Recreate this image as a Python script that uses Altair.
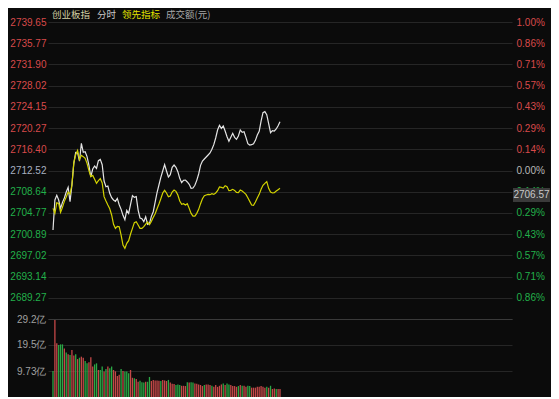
import altair as alt
import pandas as pd

# ---------------- data ----------------
minutes = list(range(121))  # 9:30 .. 11:30, one point per minute

index_price = [
    2701.65, 2707.13, 2707.98, 2707.13, 2705.60, 2706.70, 2707.49, 2708.59, 2709.44, 2706.82,
    2709.87, 2713.83, 2715.84, 2715.78, 2714.25, 2717.48, 2715.84, 2715.96, 2715.05, 2713.46,
    2711.39, 2712.79, 2713.34, 2712.91, 2714.31, 2714.56, 2713.58, 2710.60, 2709.56, 2709.69,
    2708.35, 2707.55, 2707.13, 2706.88, 2707.43, 2706.27, 2705.42, 2704.33, 2703.53, 2705.24,
    2704.69, 2706.34, 2707.92, 2707.61, 2707.74, 2705.30, 2703.84, 2703.72, 2703.17, 2704.08,
    2702.68, 2702.86, 2704.14, 2704.99, 2706.76, 2708.47, 2709.87, 2711.27, 2712.43, 2713.58,
    2712.43, 2711.33, 2711.76, 2713.10, 2713.52, 2713.10, 2712.30, 2711.09, 2710.29, 2710.72,
    2710.78, 2710.42, 2709.99, 2709.26, 2709.32, 2709.81, 2710.72, 2711.88, 2713.46, 2714.25,
    2714.62, 2714.98, 2715.35, 2715.72, 2716.39, 2717.24, 2718.46, 2719.92, 2720.77, 2720.22,
    2720.65, 2719.74, 2718.70, 2717.85, 2718.58, 2719.31, 2718.58, 2718.21, 2718.82, 2719.92,
    2719.49, 2719.61, 2718.58, 2717.42, 2717.18, 2717.24, 2717.42, 2718.03, 2719.00, 2719.67,
    2721.56, 2723.09, 2723.27, 2722.72, 2721.08, 2719.43, 2719.80, 2719.74, 2720.10, 2720.71,
    2721.44,
]

lead_index = [
    2705.60, 2704.69, 2706.64, 2706.52, 2704.87, 2705.79, 2706.88, 2707.68, 2708.59, 2708.22,
    2709.87, 2713.95, 2715.41, 2716.20, 2714.50, 2715.29, 2715.05, 2714.74, 2713.83, 2712.49,
    2711.39, 2711.63, 2710.90, 2710.17, 2710.66, 2711.03, 2710.23, 2707.74, 2706.94, 2706.21,
    2705.54, 2704.39, 2702.68, 2701.95, 2702.31, 2702.25, 2700.73, 2698.90, 2698.29, 2699.21,
    2699.70, 2700.91, 2701.95, 2702.99, 2703.17, 2702.56, 2701.95, 2701.95, 2702.25, 2702.74,
    2703.11, 2702.62, 2703.23, 2703.96, 2704.63, 2705.54, 2706.40, 2707.37, 2708.41, 2708.89,
    2708.41, 2707.74, 2707.86, 2708.59, 2708.95, 2708.71, 2708.04, 2706.94, 2706.34, 2706.46,
    2706.21, 2706.46, 2705.60, 2704.69, 2704.20, 2704.20, 2704.69, 2705.42, 2706.46, 2707.37,
    2707.92, 2708.04, 2708.16, 2708.10, 2708.28, 2708.16, 2708.41, 2708.83, 2709.50, 2709.44,
    2709.32, 2709.75, 2709.56, 2708.83, 2708.89, 2709.08, 2708.89, 2708.53, 2708.47, 2708.95,
    2708.77, 2708.47, 2708.16, 2707.55, 2706.88, 2706.21, 2706.15, 2706.76, 2707.49, 2708.16,
    2709.08, 2709.81, 2710.17, 2710.48, 2709.26, 2708.59, 2708.41, 2708.47, 2708.77, 2709.02,
    2709.26,
]

volume = [
    9.7, 28.8, 20.1, 19.5, 19.7, 19.7, 18.2, 16.7, 16.0, 15.7,
    17.6, 15.5, 16.0, 14.2, 14.7, 15.1, 14.7, 13.5, 12.6, 13.0,
    14.9, 11.4, 12.2, 12.6, 10.1, 10.1, 11.4, 9.5, 10.5, 11.4,
    10.8, 11.4, 10.1, 9.6, 7.9, 8.3, 10.5, 9.7, 9.5, 9.5,
    8.9, 10.1, 7.2, 7.0, 6.7, 5.7, 6.1, 5.5, 5.4, 5.7,
    5.7, 7.5, 6.0, 6.4, 6.2, 6.2, 6.1, 6.0, 6.4, 6.2,
    6.0, 6.4, 5.4, 5.0, 4.9, 4.5, 4.7, 4.5, 4.2, 4.2,
    4.1, 5.5, 5.4, 5.5, 5.4, 5.1, 5.0, 4.7, 4.5, 4.1,
    4.5, 4.7,
    4.7, 4.5, 4.2, 3.8, 4.5, 3.8, 4.2, 4.7, 5.1, 4.5,
    5.1, 4.7, 4.5, 4.1, 4.1, 3.8, 4.1, 4.5, 4.2, 4.2,
    3.8, 4.2, 4.1, 3.5, 3.5, 3.5, 3.8, 3.8, 4.1, 3.8,
    3.5, 3.8, 3.5, 4.2, 3.0, 3.2, 3.0, 3.0, 3.0,
]

direction = list(
    "GRRGGGRGRG" "RRGRGRRGGR" "RRGGRGGRGR" "GGRRRRGRGG"
    "GRRGRRGGGR" "GGRRRRRGRR" "RGRRRGGGRR" "RGRGGRRRRR" "GR"
    "RRGRRRRRGR" "GGRRRRGRGR" "RGGRRRRRRR" "RGRGRRGRR"
)

prev_close = 2712.52
price_ticks = [2685.39, 2689.27, 2693.14, 2697.02, 2700.89, 2704.77, 2708.64,
               2712.52, 2716.40, 2720.27, 2724.15, 2728.02, 2731.90, 2735.77, 2739.65]
volume_ticks = [9.73, 19.47, 29.2]
grid_minutes = [0, 30, 60, 90, 120, 150, 180, 210, 240]
header_texts = ["创业板指", "分时", "领先指标", "成交额(元)"]
last_label = ["2706.57"]

df = pd.DataFrame({
    "minute": minutes,
    "price": index_price,
    "lead": lead_index,
    "vol": volume,
    "dir": ["up" if d == "R" else "down" for d in direction],
})

# ---------------- styling ----------------
BG = "#0b0b0b"
GRID = "#262626"
RED = "#d84a4a"
GREEN = "#22b04a"
NEUTRAL = "#a8b0c0"
LBL_FONT = "Liberation Sans"
CJK_FONT = "Noto Sans CJK SC"

W, H = 464, 375
PRICE_H = 297

x_enc_grid = alt.X(
    "minute:Q",
    scale=alt.Scale(domain=[0, 240], nice=False, zero=False),
    axis=alt.Axis(values=grid_minutes, labels=False, ticks=False, domain=False,
                  grid=True, gridColor=GRID, gridWidth=1, title=None),
)
x_enc = alt.X("minute:Q", scale=alt.Scale(domain=[0, 240], nice=False, zero=False), axis=None)

price_scale = alt.Scale(domain=[price_ticks[0], price_ticks[-1]], range=[PRICE_H, 0],
                        nice=False, zero=False)

label_color = {
    "condition": [
        {"test": f"datum.value > {prev_close + 0.05}", "value": RED},
        {"test": f"datum.value < {prev_close - 0.05}", "value": GREEN},
    ],
    "value": NEUTRAL,
}

base = alt.Chart(df)

white_line = base.mark_line(color="#e4e4e4", strokeWidth=1.2).encode(
    x=x_enc_grid,
    y=alt.Y("price:Q", scale=price_scale,
            axis=alt.Axis(orient="left", values=price_ticks, title=None,
                          labelExpr="datum.value < 2686 ? '' : format(datum.value, '.2f')",
                          labelColor=label_color, labelFont=LBL_FONT, labelFontSize=10,
                          labelPadding=2, ticks=False, domain=False, grid=True,
                          gridColor=GRID, gridWidth=1, labelBaseline="middle")),
)

yellow_line = base.mark_line(color="#d2d200", strokeWidth=1.2).encode(
    x=x_enc,
    y=alt.Y("lead:Q", scale=price_scale,
            axis=alt.Axis(orient="right", values=price_ticks, title=None,
                          labelExpr=("datum.value < 2686 ? '' : format(abs(datum.value / "
                                     f"{prev_close} - 1) * 100, '.2f') + '%'"),
                          labelColor={
                              "condition": [
                                  {"test": f"datum.value > {prev_close + 0.05}", "value": RED},
                                  {"test": f"datum.value < {prev_close - 0.05}", "value": GREEN},
                              ],
                              "value": "#b8b8b8",
                          },
                          labelFont=LBL_FONT, labelFontSize=10, labelPadding=4,
                          ticks=False, domain=False, grid=False, labelBaseline="middle")),
)

bars = base.mark_bar(size=1.3, orient="vertical").encode(
    x=x_enc,
    y=alt.Y("vol:Q", scale=alt.Scale(domain=[0, 29.2], range=[H, PRICE_H], nice=False),
            axis=alt.Axis(orient="left", values=volume_ticks, title=None,
                          labelExpr="format(datum.value, '.3') + '亿'",
                          labelColor="#a0a0a0", labelFont=LBL_FONT, labelFontSize=10,
                          labelPadding=2, ticks=False, domain=False, grid=True,
                          gridColor={"condition": {"test": "datum.value > 29", "value": "#3a3a3a"},
                                     "value": GRID},
                          gridWidth=1, labelBaseline="middle")),
    color=alt.Color("dir:N", scale=alt.Scale(domain=["up", "down"], range=["#c44848", "#2aa845"]),
                    legend=None),
)

header_colors = ["#d6d2a6", "#c8c8c8", "#e2e200", "#a8a8a8"]
header_x = [4, 49, 74, 118]
headers = [
    alt.Chart(pd.DataFrame({"t": [t]})).mark_text(
        align="left", baseline="middle", font=CJK_FONT, fontSize=9.5, color=c
    ).encode(x=alt.value(xx), y=alt.value(-7.5), text="t:N")
    for t, c, xx in zip(header_texts, header_colors, header_x)
]

tag_box = alt.Chart(pd.DataFrame({"t": last_label})).mark_rect(color="#3a3a3a").encode(
    x=alt.value(465), x2=alt.value(502), y=alt.value(166), y2=alt.value(180)
)
tag_text = alt.Chart(pd.DataFrame({"t": last_label})).mark_text(
    align="center", baseline="middle", font=LBL_FONT, fontSize=10, color="#c8c8c8"
).encode(x=alt.value(483.5), y=alt.value(173), text="t:N")

chart = alt.layer(
    white_line, yellow_line, bars, *headers, tag_box, tag_text
).resolve_scale(y="independent").resolve_axis(y="independent").properties(
    width=W, height=H,
    padding={"left": 40, "top": 14, "right": 39, "bottom": 0},
    autosize=alt.AutoSizeParams(type="none"),
    background=BG,
).configure_view(stroke=None)

chart.save("out.html", embed_options={"renderer": "svg", "actions": False})
